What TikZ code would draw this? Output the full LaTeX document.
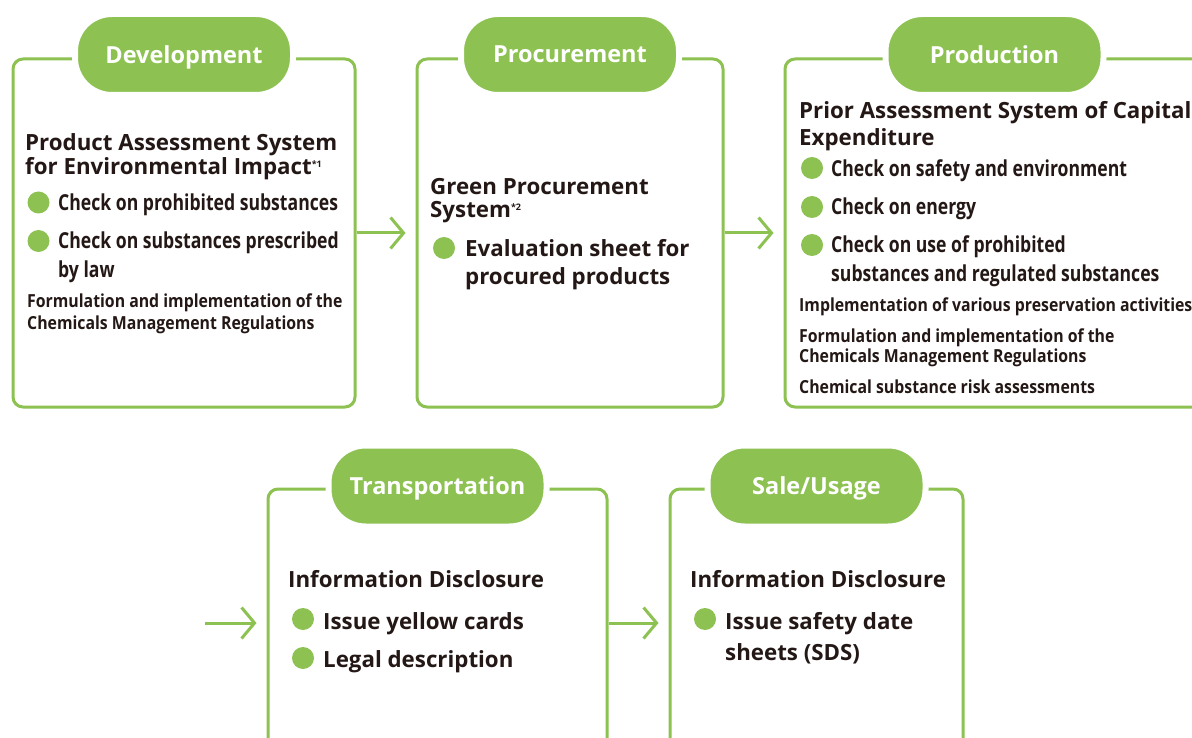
\documentclass[tikz,border=0pt]{standalone}
\usepackage{fontspec}
\setmainfont{Open Sans}
\newfontfamily\narrowsans[FakeStretch=0.8]{Open Sans}
\newfontfamily\smallsans[FakeStretch=0.88]{Open Sans}
\usetikzlibrary{arrows.meta,positioning}

\definecolor{leaf}{RGB}{141,194,82}
\definecolor{ink}{RGB}{35,24,21}

\tikzset{
  stage/.style={draw=leaf, line width=3pt, rounded corners=10pt, inner sep=0pt},
  tag/.style={fill=leaf, draw=white, line width=6pt, rounded corners=37pt, inner sep=0pt,
    minimum width=218pt, minimum height=81pt, text=white, text depth=0pt,
    font=\bfseries\fontsize{23.5}{27}\selectfont},
  dot/.style={circle, fill=leaf, inner sep=0pt, minimum size=22pt},
  head/.style={anchor=base west, inner sep=0pt, text=ink,
    font=\bfseries\fontsize{22.3}{26}\selectfont},
  item/.style={anchor=base west, inner sep=0pt, text=ink,
    font=\narrowsans\bfseries\fontsize{22}{26}\selectfont},
  note/.style={anchor=base west, inner sep=0pt, text=ink,
    font=\smallsans\bfseries\fontsize{18}{21}\selectfont},
  flow/.style={draw=leaf, line width=3pt, shorten >=10pt,
    -{Straight Barb[length=13pt,width=31pt]}}
}
\newcommand{\fnmark}[1]{\raisebox{7pt}{\fontsize{9}{9}\selectfont *#1}}

\begin{document}
\begin{tikzpicture}[x=1pt, y=-1pt]
    \fill[white] (0,0) rectangle (1192,738);
    \clip (0,0) rectangle (1192,738);

    % Stage frames
    \node[stage, minimum width=342pt, minimum height=348pt] (dev) at (184,233) {};
    \node[stage, minimum width=306pt, minimum height=348pt] (proc) at (570,233) {};
    \node[stage, minimum width=419pt, minimum height=348pt] (prod) at (994.5,233) {};
    \node[stage, minimum width=339pt, minimum height=268pt] (trans) at (437.5,623) {};
    \node[stage, minimum width=293pt, minimum height=268pt] (sale) at (816.5,623) {};

    % Stage titles
    \node[tag, yshift=3pt] (devtag) at (dev.north) {Development};
    \node[tag, yshift=3pt] (proctag) at (proc.north) {Procurement};
    \node[tag, yshift=3pt] (prodtag) at (prod.north) {Production};
    \node[tag, yshift=1.5pt] (transtag) at (trans.north) {Transportation};
    \node[tag, yshift=1.5pt] (saletag) at (sale.north) {Sale/Usage};

    % Flow between stages
    \draw[flow] (dev.east) -- (proc.west);
    \draw[flow] (proc.east) -- (prod.west);
    \coordinate (inlet) at (205,623);
    \draw[flow] (inlet) -- (trans.west);
    \draw[flow] (trans.east) -- (sale.west);

    % Development
    \node[head] (dev1) at (25,151) {Product Assessment System};
    \node[head] (dev2) at (25,175) {for Environmental Impact\fnmark{1}};
    \node[dot] (devdot1) at (38.5,202.5) {};
    \node[item] (dev3) at (58,211) {Check on prohibited substances};
    \node[dot] (devdot2) at (38.5,241) {};
    \node[item] (dev4) at (58,248.5) {Check on substances prescribed};
    \node[item] (dev5) at (58,277) {by law};
    \node[note] (dev6) at (27,308) {Formulation and implementation of the};
    \node[note] (dev7) at (27,329) {Chemicals Management Regulations};

    % Procurement
    \node[head] (proc1) at (430,195) {Green Procurement};
    \node[head] (proc2) at (430,218) {System\fnmark{2}};
    \node[dot] (procdot1) at (444,248) {};
    \node[head] (proc3) at (465,257) {Evaluation sheet for};
    \node[head] (proc4) at (465,285) {procured products};

    % Production
    \node[head] (prod1) at (799,119) {Prior Assessment System of Capital};
    \node[head] (prod2) at (799,146) {Expenditure};
    \node[dot] (proddot1) at (812,168) {};
    \node[item] (prod3) at (831,177) {Check on safety and environment};
    \node[dot] (proddot2) at (812,207) {};
    \node[item] (prod4) at (831,215) {Check on energy};
    \node[dot] (proddot3) at (812,245) {};
    \node[item] (prod5) at (831,253) {Check on use of prohibited};
    \node[item] (prod6) at (831,282) {substances and regulated substances};
    \node[note] (prod7) at (799,312) {Implementation of various preservation activities};
    \node[note] (prod8) at (799,342) {Formulation and implementation of the};
    \node[note] (prod9) at (799,362) {Chemicals Management Regulations};
    \node[note] (prod10) at (799,393) {Chemical substance risk assessments};

    % Transportation
    \node[head] (trans1) at (288,587) {Information Disclosure};
    \node[dot] (transdot1) at (303,619) {};
    \node[head] (trans2) at (323,629) {Issue yellow cards};
    \node[dot] (transdot2) at (303,658) {};
    \node[head] (trans3) at (323,667) {Legal description};

    % Sale/Usage
    \node[head] (sale1) at (690,587) {Information Disclosure};
    \node[dot] (saledot1) at (705,619) {};
    \node[head] (sale2) at (725,629) {Issue safety date};
    \node[head] (sale3) at (725,660) {sheets (SDS)};
\end{tikzpicture}
\end{document}
